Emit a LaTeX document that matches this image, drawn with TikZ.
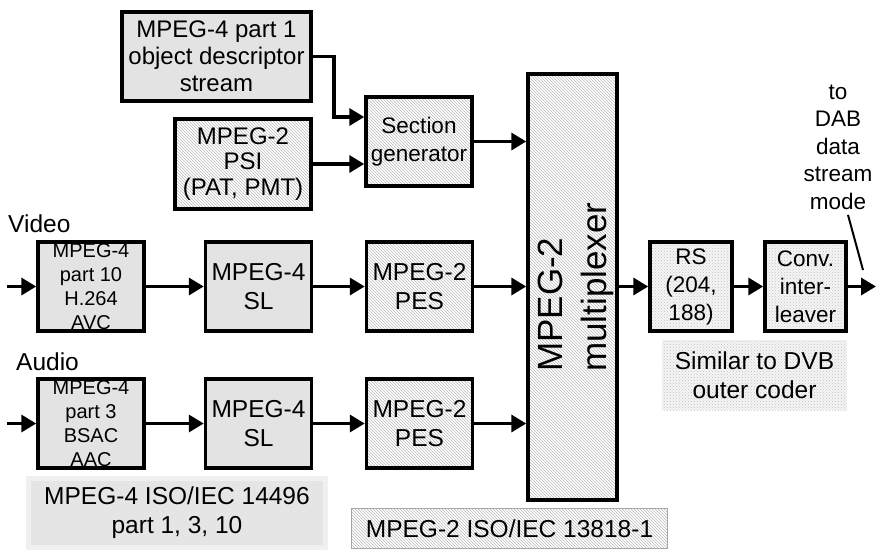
\documentclass[tikz,border=0pt]{standalone}
\usepackage{fontspec}
\setmainfont{Liberation Sans}
\usetikzlibrary{arrows.meta,positioning,patterns,calc}
\definecolor{boxgray}{gray}{0.89}
\definecolor{hatchgray}{gray}{0.72}
\definecolor{dotgray}{gray}{0.76}
\definecolor{dotback}{gray}{0.96}
\definecolor{stdgray}{gray}{0.90}
\definecolor{stdrim}{gray}{0.94}

\begin{document}
\begin{tikzpicture}[x=1pt, y=-1pt,
    blk/.style={draw, line width=3.5pt, inner sep=0pt, align=center, minimum width=106pt, minimum height=89pt},
    grayfill/.style={fill=boxgray},
    hatch/.style={pattern=north west lines, pattern color=hatchgray},
    dotfill/.style={preaction={fill=dotback}, pattern=crosshatch dots, pattern color=dotgray},
    arrow/.style={-{Triangle[length=15pt,width=17pt]}, line width=3.5pt},
    fsmall/.style={font=\fontsize{20}{24}\selectfont},
    fmid/.style={font=\fontsize{22.5}{28}\selectfont},
    fbig/.style={font=\fontsize{24.5}{29}\selectfont},
    fhuge/.style={font=\fontsize{35}{46}\selectfont, rotate=90, anchor=west, inner sep=0pt}
]
\useasboundingbox (0,0) rectangle (876,550);

\node[blk, grayfill, font=\fontsize{24}{27}\selectfont, minimum width=189pt] (part1) at (216.5,56.5) {MPEG-4 part 1\\object descriptor\\stream};
\node[blk, hatch, minimum width=136pt, minimum height=90pt, font=\fontsize{24}{25.5}\selectfont] (psi) at (243,164) {MPEG-2\\PSI\\(PAT, PMT)};
\node[blk, hatch, fmid] (secgen) at (419,141.5) {Section\\generator};
\node[blk, hatch, minimum width=89pt, minimum height=426pt] (mux) at (572.5,287) {};
\node[fhuge] (muxa) at (550,372) {MPEG-2};
\node[fhuge] (muxb) at (597,372) {multiplexer};

\node[fbig, anchor=south west, inner sep=0pt] (video) at (8,233) {Video};
\node[blk, grayfill, fsmall] (vcodec) at (91,286.5) {MPEG-4\\part 10\\H.264\\AVC};
\node[blk, grayfill, fbig] (vsl) at (258.5,286.5) {MPEG-4\\SL};
\node[blk, hatch, fbig] (vpes) at (419.5,286.5) {MPEG-2\\PES};

\node[fbig, anchor=south west, inner sep=0pt] (audio) at (16,371) {Audio};
\node[blk, grayfill, fsmall] (acodec) at (91,423.5) {MPEG-4\\part 3\\BSAC\\AAC};
\node[blk, grayfill, fbig] (asl) at (258.5,423.5) {MPEG-4\\SL};
\node[blk, hatch, fbig] (apes) at (419.5,423.5) {MPEG-2\\PES};

\node[blk, dotfill, fmid, minimum width=82pt] (rs) at (691,286.5) {RS\\(204,\\188)};
\node[blk, dotfill, fmid, minimum width=81pt] (conv) at (805.5,286.5) {Conv.\\inter-\\leaver};
\node[dotfill, fbig, align=center, inner sep=0pt, minimum width=185pt, minimum height=70pt] (similar) at (754.5,375) {Similar to DVB\\outer coder};
\node[align=center, font=\fontsize{22.5}{27.5}\selectfont] (todab) at (838,147) {to\\DAB\\data\\stream\\mode};

\node[draw=stdrim, line width=5pt, fill=stdgray, fbig, align=center, inner sep=0pt, minimum width=297pt, minimum height=69pt] (m4std) at (177,513) {MPEG-4 ISO/IEC 14496\\part 1, 3, 10};
\node[draw=gray!70, line width=1.2pt, hatch, fbig, inner sep=0pt, minimum width=316pt, minimum height=40pt] (m2std) at (509.5,528.5) {MPEG-2 ISO/IEC 13818-1};

\coordinate (vin) at (7,286.5);
\coordinate (ain) at (7,423.5);
\coordinate (out) at (876,286.5);
\coordinate (tip) at (863,270);

\draw[arrow] (part1.east) -- ++(21,0) |- ([yshift=24.5pt]secgen.west);
\draw[arrow] (psi.east) -- (psi.east -| secgen.west);
\draw[arrow] (secgen.east) -- (secgen.east -| mux.west);
\draw[arrow] (vin) -- (vcodec);
\draw[arrow] (vcodec) -- (vsl);
\draw[arrow] (vsl) -- (vpes);
\draw[arrow] (vpes) -- (vpes -| mux.west);
\draw[arrow] (ain) -- (acodec);
\draw[arrow] (acodec) -- (asl);
\draw[arrow] (asl) -- (apes);
\draw[arrow] (apes) -- (apes -| mux.west);
\draw[arrow] (mux.east |- rs) -- (rs);
\draw[arrow] (rs) -- (conv);
\draw[arrow] (conv) -- (out);
\draw[line width=2pt] ([xshift=10pt,yshift=-2pt]todab.south) -- (tip);
\end{tikzpicture}
\end{document}
